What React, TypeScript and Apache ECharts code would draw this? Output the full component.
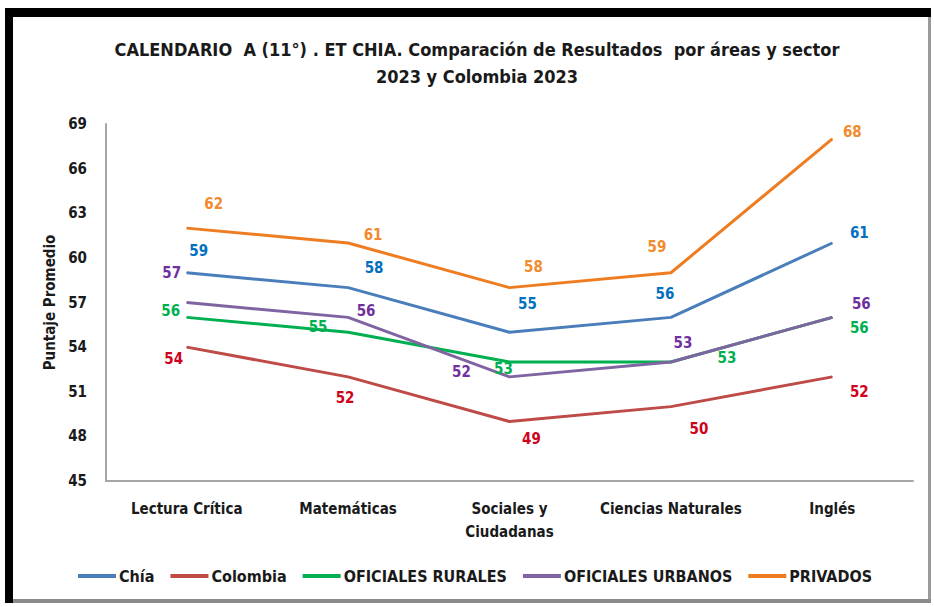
import React, { useEffect, useRef } from "react";
import * as echarts from "echarts";

const categories = ["Lectura Crítica", "Matemáticas", "Sociales y\nCiudadanas", "Ciencias Naturales", "Inglés"];
const chia = [59, 58, 55, 56, 61];
const colombia = [54, 52, 49, 50, 52];
const oficialesRurales = [56, 55, 53, 53, 56];
const oficialesUrbanos = [57, 56, 52, 53, 56];
const privados = [62, 61, 58, 59, 68];
const yTicks = { min: 45, max: 69, interval: 3 };

const FONT = "'DejaVu Sans Condensed', 'Liberation Sans Narrow', Arial, sans-serif";

// label offsets (layout only)
const offsets: Record<string, number[][]> = {
  chia: [[12, -22], [26, -20], [18, -28], [-6, -23], [27, -10]],
  colombia: [[-13, 12], [-3, 21], [22, 17], [28, 22], [27, 15]],
  rurales: [[-16, -6], [-30, -5], [-6, 7], [56, -4], [27, 11]],
  urbanos: [[-15, -30], [18, -6], [-48, -5], [12, -19], [29, -13]],
  privados: [[27, -24], [25, -8], [24, -21], [-14, -26], [20, -7]],
};

function makeSeries(name: string, values: number[], key: string, lineColor: string, labelColor: string) {
  return {
    name,
    type: "line",
    data: values.map((v, i) => ({
      value: v,
      label: { offset: offsets[key][i] },
    })),
    symbol: "circle",
    symbolSize: 1,
    itemStyle: { color: lineColor },
    lineStyle: { color: lineColor, width: 3 },
    label: {
      show: true,
      position: "inside",
      color: labelColor,
      fontFamily: FONT,
      fontWeight: "bold",
      fontSize: 15,
    },
  };
}

export default function App() {
  const ref = useRef<HTMLDivElement>(null);
  useEffect(() => {
    if (!ref.current) return;
    const chart = echarts.init(ref.current, null, { renderer: "svg" });
    chart.setOption({
      animation: false,
      backgroundColor: "#ffffff",
      title: {
        text: "CALENDARIO  A (11°) . ET CHIA. Comparación de Resultados  por áreas y sector\n2023 y Colombia 2023",
        left: 472,
        textAlign: "center",
        top: 31,
        textStyle: {
          fontFamily: FONT,
          fontWeight: "bold",
          fontSize: 18,
          color: "#1a1a1a",
          lineHeight: 27,
        },
      },
      graphic: [
        { type: "rect", shape: { x: 5, y: 8, width: 926, height: 9 }, style: { fill: "#000" } },
        { type: "rect", shape: { x: 5, y: 8, width: 8, height: 595 }, style: { fill: "#000" } },
        { type: "rect", shape: { x: 928, y: 17, width: 3, height: 586 }, style: { fill: "#9a9a9a" } },
        { type: "rect", shape: { x: 13, y: 599, width: 918, height: 4 }, style: { fill: "#8a8a8a" } },
      ],
      legend: {
        left: 73,
        top: 563,
        itemWidth: 38,
        itemHeight: 4,
        itemGap: 16,
        icon: "rect",
        textStyle: {
          fontFamily: FONT,
          fontWeight: "bold",
          fontSize: 16,
          color: "#1a1a1a",
          padding: [0, 0, 0, -2],
        },
      },
      grid: { left: 106, right: 21, top: 124, bottom: 126 },
      xAxis: {
        type: "category",
        data: categories,
        boundaryGap: true,
        axisLine: { lineStyle: { color: "#a6a6a6", width: 2 } },
        axisTick: { show: false },
        axisLabel: {
          interval: 0,
          margin: 16,
          fontFamily: FONT,
          fontWeight: "bold",
          fontSize: 15,
          color: "#1a1a1a",
          lineHeight: 23,
        },
      },
      yAxis: {
        type: "value",
        min: yTicks.min,
        max: yTicks.max,
        interval: yTicks.interval,
        name: "Puntaje Promedio",
        nameLocation: "middle",
        nameRotate: 90,
        nameGap: 47,
        nameTextStyle: {
          fontFamily: FONT,
          fontWeight: "bold",
          fontSize: 15,
          color: "#1a1a1a",
        },
        axisLine: { show: true, lineStyle: { color: "#a6a6a6", width: 2 } },
        axisTick: { show: false },
        splitLine: { show: false },
        axisLabel: {
          margin: 19,
          fontFamily: FONT,
          fontWeight: "bold",
          fontSize: 15,
          color: "#1a1a1a",
        },
      },
      series: [
        makeSeries("Chía", chia, "chia", "#4A7EBB", "#0070C0"),
        makeSeries("Colombia", colombia, "colombia", "#BE4B48", "#D0021B"),
        makeSeries("OFICIALES RURALES", oficialesRurales, "rurales", "#00B050", "#00B050"),
        makeSeries("OFICIALES URBANOS", oficialesUrbanos, "urbanos", "#8064A2", "#7030A0"),
        makeSeries("PRIVADOS", privados, "privados", "#EE7D22", "#F28A2E"),
      ],
    });
    return () => chart.dispose();
  }, []);
  return (
    <div
      ref={ref}
      style={{ position: "fixed", left: 0, top: 0, width: 934, height: 607, background: "#fff" }}
    />
  );
}
